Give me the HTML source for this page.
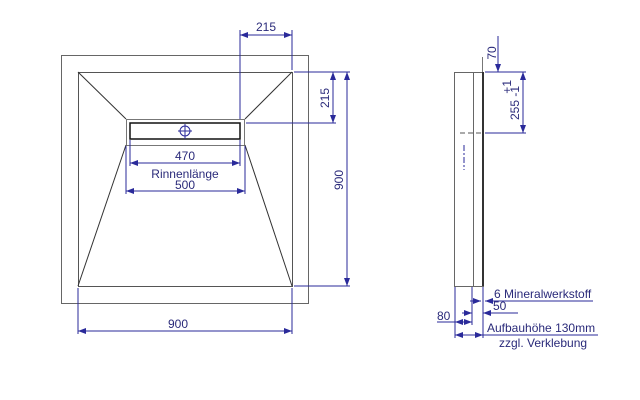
<!DOCTYPE html><html><head><style>body{margin:0;background:#fff}svg{display:block}text{font-family:"Liberation Sans",sans-serif;fill:#2a2a7a;font-size:12px}</style></head><body>
<svg width="640" height="400" viewBox="0 0 640 400" xmlns="http://www.w3.org/2000/svg">
<defs><marker id="a" markerWidth="8" markerHeight="6" refX="8" refY="3" orient="auto-start-reverse" markerUnits="userSpaceOnUse"><path d="M0,0L8,3L0,6z" fill="#2a2a9a"/></marker></defs>
<g fill="none" stroke="#666" stroke-width="1">
<rect x="61.5" y="55.5" width="247" height="248"/>
<rect x="78.5" y="72.5" width="214" height="214" stroke="#555"/>
<rect x="126.5" y="119.5" width="118" height="26" stroke="#777"/>
<line x1="78" y1="72" x2="126" y2="119" stroke="#333"/>
<line x1="292" y1="72" x2="245" y2="119" stroke="#333"/>
<line x1="78" y1="286" x2="126" y2="145" stroke="#333"/>
<line x1="292" y1="286" x2="245" y2="145" stroke="#333"/>
</g>
<rect x="130" y="123" width="110" height="16" fill="none" stroke="#111" stroke-width="1.5"/>
<circle cx="185" cy="131" r="5" fill="none" stroke="#2a2a9a"/>
<line x1="185" y1="124" x2="185" y2="139" stroke="#2a2a9a"/><line x1="178" y1="131" x2="192" y2="131" stroke="#2a2a9a"/>
<g stroke="#2a2a9a" stroke-width="1" fill="none">
<line x1="240" y1="30" x2="240" y2="119"/><line x1="292" y1="30" x2="292" y2="70"/>
<line x1="240" y1="35" x2="292" y2="35" marker-start="url(#a)" marker-end="url(#a)"/>
<line x1="294" y1="72" x2="350" y2="72"/><line x1="246" y1="123" x2="336" y2="123"/><line x1="294" y1="286" x2="350" y2="286"/>
<line x1="333" y1="72" x2="333" y2="123" marker-start="url(#a)" marker-end="url(#a)"/>
<line x1="347" y1="72" x2="347" y2="286" marker-start="url(#a)" marker-end="url(#a)"/>
<line x1="130" y1="140" x2="130" y2="166"/><line x1="240" y1="140" x2="240" y2="166"/>
<line x1="126" y1="146" x2="126" y2="194"/><line x1="245" y1="146" x2="245" y2="194"/>
<line x1="130" y1="163" x2="240" y2="163" marker-start="url(#a)" marker-end="url(#a)"/>
<line x1="126" y1="191" x2="245" y2="191" marker-start="url(#a)" marker-end="url(#a)"/>
<line x1="78" y1="288" x2="78" y2="334"/><line x1="292" y1="288" x2="292" y2="334"/>
<line x1="78" y1="331" x2="292" y2="331" marker-start="url(#a)" marker-end="url(#a)"/>
</g>
<text x="266" y="31" text-anchor="middle">215</text>
<text x="185" y="160" text-anchor="middle">470</text>
<text x="185" y="178" text-anchor="middle">Rinnenlänge</text>
<text x="185" y="189" text-anchor="middle">500</text>
<text x="178" y="328" text-anchor="middle">900</text>
<text transform="translate(329,98) rotate(-90)" text-anchor="middle">215</text>
<text transform="translate(343,180) rotate(-90)" text-anchor="middle">900</text>
<g fill="none" stroke="#666">
<rect x="454.5" y="72.5" width="29" height="214"/>
<line x1="473.5" y1="72" x2="473.5" y2="286"/>
</g>
<line x1="483" y1="72" x2="483" y2="286" stroke="#333" stroke-width="2"/>
<line x1="482.5" y1="57" x2="482.5" y2="72" stroke="#777"/>
<line x1="460" y1="133" x2="483" y2="133" stroke="#555" stroke-dasharray="5,3"/>
<line x1="464" y1="145" x2="464" y2="170" stroke="#2a2a9a" stroke-dasharray="6,2,2,2"/>
<g stroke="#2a2a9a" fill="none">
<line x1="485" y1="72" x2="526" y2="72"/><line x1="485" y1="133" x2="526" y2="133"/>
<line x1="498" y1="36" x2="498" y2="72" marker-end="url(#a)"/>
<line x1="523" y1="72" x2="523" y2="133" marker-start="url(#a)" marker-end="url(#a)"/>
<line x1="455" y1="287" x2="455" y2="338"/><line x1="472" y1="287" x2="472" y2="325"/><line x1="483" y1="287" x2="483" y2="338"/>
<line x1="470" y1="301" x2="481" y2="301" marker-end="url(#a)"/><line x1="485" y1="301" x2="593" y2="301" marker-start="url(#a)"/>
<line x1="462" y1="313" x2="472" y2="313" marker-end="url(#a)"/><line x1="483" y1="313" x2="518" y2="313" marker-start="url(#a)"/>
<line x1="437" y1="322" x2="455" y2="322"/><line x1="455" y1="322" x2="472" y2="322" marker-start="url(#a)" marker-end="url(#a)"/>
<line x1="455" y1="335" x2="483" y2="335" marker-start="url(#a)" marker-end="url(#a)"/><line x1="483" y1="335" x2="598" y2="335"/>
</g>
<text transform="translate(496,53) rotate(-90)" text-anchor="middle">70</text>
<text transform="translate(511,80) rotate(-90)" text-anchor="end">+1</text>
<text transform="translate(519,103) rotate(-90)" text-anchor="middle">255 -1</text>
<text x="494" y="298">6 Mineralwerkstoff</text>
<text x="493" y="310">50</text>
<text x="437" y="320">80</text>
<text x="487" y="332">Aufbauhöhe 130mm</text>
<text x="499" y="347">zzgl. Verklebung</text>
</svg></body></html>
